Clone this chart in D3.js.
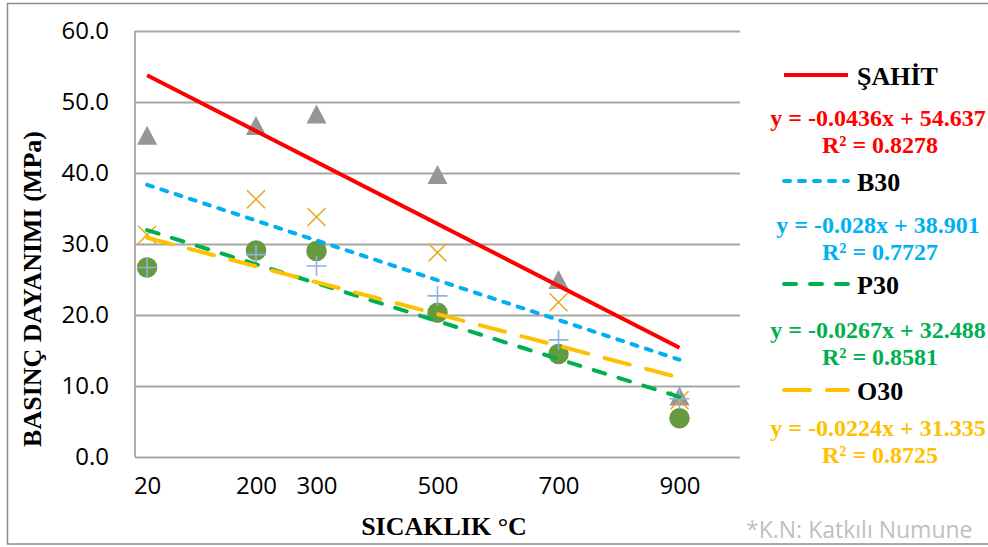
<!DOCTYPE html>
<html>
<head>
<meta charset="utf-8">
<script src="https://cdn.jsdelivr.net/npm/d3@7"></script>
<style>
  body { margin: 0; background: #fff; }
</style>
</head>
<body>
<div class="canvas"></div>
<script>
// sicaklik (°C) ve basinc dayanimi (MPa) degerleri
const temps = [20, 200, 300, 500, 700, 900];
const sahit = [45.3, 46.7, 48.3, 39.8, 25.0, 8.6];
const b30 = [31.3, 36.3, 33.8, 28.8, 21.8, 8.0];
const p30 = [26.7, 29.1, 29.0, 20.3, 14.5, 5.45];
const o30 = [26.7, 28.5, 26.9, 22.7, 16.5, 8.2];

// trend lines (linear) as printed on the chart
const seriesNames = ['ŞAHİT', 'B30', 'P30', 'O30'];
const slopes = [-0.0436, -0.028, -0.0267, -0.0224];
const intercepts = [54.637, 38.901, 32.488, 31.335];
const r2 = ['0.8278', '0.7727', '0.8581', '0.8725'];

const yTicks = [0, 10, 20, 30, 40, 50, 60];
const xTickLabels = ['20', '200', '300', '500', '700', '900'];

const width = 988, height = 547;
const plot = { left: 135, right: 740, top: 31, bottom: 457 };

const svg = d3.select('.canvas')
    .append('svg')
    .attr('width', width)
    .attr('height', height)
    .style('display', 'block');

// outer chart border (right side runs off the picture)
svg.append('rect')
    .attr('x', 7.5).attr('y', 3.5)
    .attr('width', 1000).attr('height', 540.5)
    .attr('fill', '#fff')
    .attr('stroke', '#8c8c8c')
    .attr('stroke-width', 1.5);

const x = d3.scaleLinear().domain([0, 1000]).range([plot.left, plot.right]);
const y = d3.scaleLinear().domain([0, 60]).range([plot.bottom, plot.top]);

const sansFont = "'Open Sans', 'Noto Sans', sans-serif";
const serifFont = "'Liberation Serif', 'DejaVu Serif', serif";

// y axis + gridlines
const yAxisGroup = svg.append('g')
    .attr('transform', `translate(${plot.left},0)`)
    .call(d3.axisLeft(y)
        .tickValues(yTicks)
        .tickSize(-(plot.right - plot.left))
        .tickPadding(26)
        .tickFormat(d3.format('.1f')));

yAxisGroup.select('.domain').remove();
yAxisGroup.selectAll('line')
    .attr('stroke', '#a6a6a6')
    .attr('stroke-width', 1.8);
yAxisGroup.selectAll('text')
    .attr('fill', '#000')
    .style('font-family', sansFont)
    .style('font-size', '24px');

// left axis line
svg.append('line')
    .attr('x1', plot.left).attr('x2', plot.left)
    .attr('y1', plot.top).attr('y2', plot.bottom)
    .attr('stroke', '#a6a6a6')
    .attr('stroke-width', 1.8);

// x axis labels
const xAxisGroup = svg.append('g')
    .attr('transform', `translate(0,${plot.bottom})`)
    .call(d3.axisBottom(x)
        .tickValues(temps)
        .tickSize(0)
        .tickPadding(20)
        .tickFormat((d, i) => xTickLabels[i]));

xAxisGroup.select('.domain').remove();
xAxisGroup.selectAll('text')
    .attr('fill', '#000')
    .style('font-family', sansFont)
    .style('font-size', '24px');

// axis titles
svg.append('text')
    .attr('transform', 'translate(41,289) rotate(-90)')
    .attr('text-anchor', 'middle')
    .style('font-family', serifFont)
    .style('font-weight', 'bold')
    .style('font-size', '26px')
    .text('BASINÇ DAYANIMI (MPa)');

svg.append('text')
    .attr('x', 444).attr('y', 535)
    .attr('text-anchor', 'middle')
    .style('font-family', serifFont)
    .style('font-weight', 'bold')
    .style('font-size', '26px')
    .text('SICAKLIK °C');

// markers (drawn before trend lines)
const markerSeries = [
    { values: sahit, shape: 'M0,-9.5L10,9.5L-10,9.5Z', fill: '#969696', stroke: 'none', sw: 0 },
    { values: b30, shape: 'M-9,-9L9,9M-9,9L9,-9', fill: 'none', stroke: '#e8a817', sw: 1.5 },
    { values: p30, shape: d3.symbol(d3.symbolCircle, 330)(), fill: '#659a3f', stroke: 'none', sw: 0 },
    { values: o30, shape: 'M-10,0H10M0,-10V10', fill: 'none', stroke: '#94afe0', sw: 1.6 }
];

markerSeries.forEach(s => {
    svg.append('g')
        .selectAll('path')
        .data(s.values)
        .enter()
        .append('path')
        .attr('d', s.shape)
        .attr('transform', (d, i) => `translate(${x(temps[i])},${y(d)})`)
        .attr('fill', s.fill)
        .attr('stroke', s.stroke)
        .attr('stroke-width', s.sw);
});

// trend line styles
const trendStyles = [
    { color: '#ff0000', dash: null, cap: 'butt' },
    { color: '#00b0f0', dash: '6 9', cap: 'round' },
    { color: '#00b050', dash: '12 14', cap: 'round' },
    { color: '#ffc000', dash: '26 17', cap: 'round' }
];

const line = d3.line()
    .x(d => x(d[0]))
    .y(d => y(d[1]));

slopes.forEach((m, i) => {
    const ends = [temps[0], temps[temps.length - 1]].map(t => [t, m * t + intercepts[i]]);
    svg.append('path')
        .datum(ends)
        .attr('d', line)
        .attr('fill', 'none')
        .attr('stroke', trendStyles[i].color)
        .attr('stroke-width', 4)
        .attr('stroke-linecap', trendStyles[i].cap)
        .attr('stroke-dasharray', trendStyles[i].dash);
});

// legend with equations
const legendLineY = [75, 181, 284, 390];
const eqY = [126, 233, 338, 436];

seriesNames.forEach((name, i) => {
    const st = trendStyles[i];
    svg.append('line')
        .attr('x1', 784).attr('x2', 848)
        .attr('y1', legendLineY[i]).attr('y2', legendLineY[i])
        .attr('stroke', st.color)
        .attr('stroke-width', 4)
        .attr('stroke-linecap', st.cap)
        .attr('stroke-dasharray', st.dash);

    svg.append('text')
        .attr('x', 857).attr('y', legendLineY[i] + 10)
        .style('font-family', serifFont)
        .style('font-weight', 'bold')
        .style('font-size', '26px')
        .attr('fill', '#000')
        .text(name);

    const eq = svg.append('text')
        .attr('text-anchor', 'middle')
        .style('font-family', serifFont)
        .style('font-weight', 'bold')
        .style('font-size', '24px')
        .attr('fill', st.color);
    eq.append('tspan')
        .attr('x', 878).attr('y', eqY[i])
        .text(`y = ${slopes[i]}x + ${intercepts[i]}`);
    eq.append('tspan')
        .attr('x', 880).attr('y', eqY[i] + 27)
        .text(`R² = ${r2[i]}`);
});

// footnote
svg.append('text')
    .attr('x', 746).attr('y', 538)
    .style('font-family', sansFont)
    .style('font-size', '23px')
    .attr('fill', '#bfbfbf')
    .text('*K.N: Katkılı Numune');
</script>
</body>
</html>
